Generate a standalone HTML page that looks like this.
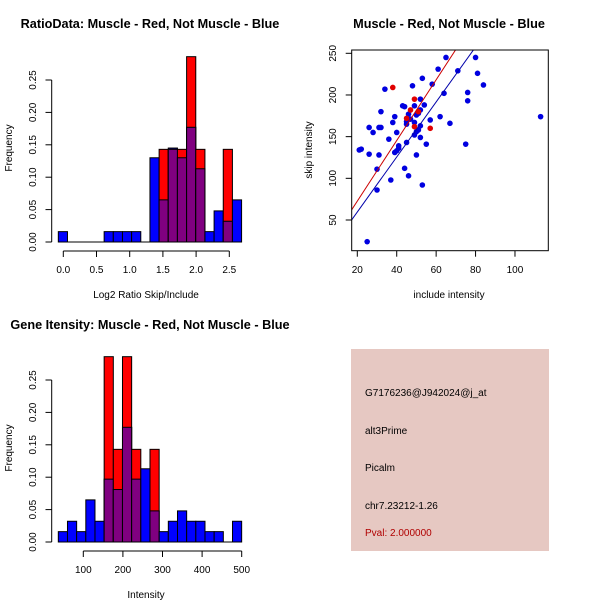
<!DOCTYPE html>
<html><head><meta charset="utf-8"><style>
html,body{margin:0;padding:0;background:#fff;}
svg{display:block;font-family:"Liberation Sans",sans-serif;}
</style></head><body>
<svg id="s" width="600" height="600" viewBox="0 0 600 600">
<rect x="0" y="0" width="600" height="600" fill="#fff"/>
<text x="150" y="28" font-size="12.7" font-weight="bold" text-anchor="middle">RatioData: Muscle - Red, Not Muscle - Blue</text>
<text x="449" y="28" font-size="12.7" font-weight="bold" text-anchor="middle">Muscle - Red, Not Muscle - Blue</text>
<text x="150" y="329" font-size="12.7" font-weight="bold" text-anchor="middle">Gene Itensity: Muscle - Red, Not Muscle - Blue</text>
<text x="146" y="298" font-size="10" text-anchor="middle">Log2 Ratio Skip/Include</text>
<text x="146" y="598" font-size="10" text-anchor="middle">Intensity</text>
<text x="449" y="298" font-size="10" text-anchor="middle">include intensity</text>
<text transform="translate(12,148) rotate(-90)" font-size="10" text-anchor="middle">Frequency</text>
<text transform="translate(12,448) rotate(-90)" font-size="10" text-anchor="middle">Frequency</text>
<text transform="translate(312,150) rotate(-90)" font-size="10" text-anchor="middle">skip intensity</text>
<g>
<rect x="351" y="349" width="198" height="202" fill="#e6c8c2"/>
<text x="365" y="396" font-size="10">G7176236@J942024@j_at</text>
<text x="365" y="434" font-size="10">alt3Prime</text>
<text x="365" y="471" font-size="10">Picalm</text>
<text x="365" y="509" font-size="10">chr7.23212-1.26</text>
<text x="365" y="536" font-size="10" fill="#b00000">Pval: 2.000000</text>
</g>
</svg>
<script>
// ---- Ratio histogram data ----
const ratioBinStart = -0.075;
const ratioBinWidth = 0.138;
const ratioBlue = [0.016,0,0,0,0,0.016,0.016,0.016,0.016,0,0.13,0.065,0.145,0.13,0.177,0.113,0.016,0.048,0.032,0.065];
const ratioRed  = [0,0,0,0,0,0,0,0,0,0,0,0.143,0.143,0.143,0.286,0.143,0,0,0.143,0];
const ratioXTicks = [0,0.5,1.0,1.5,2.0,2.5];
const ratioXTickLabels = ["0.0","0.5","1.0","1.5","2.0","2.5"];
const freqTicks = [0,0.05,0.10,0.15,0.20,0.25];
const freqTickLabels = ["0.00","0.05","0.10","0.15","0.20","0.25"];
// ---- Intensity histogram data ----
const intBinStart = 36.9;
const intBinWidth = 23.15;
const intBlue = [0.016,0.032,0.016,0.065,0.032,0.097,0.081,0.177,0.097,0.113,0.048,0.016,0.032,0.048,0.032,0.032,0.016,0.016,0,0.032];
const intRed  = [0,0,0,0,0,0.286,0.143,0.286,0.143,0,0.143,0,0,0,0,0,0,0,0,0];
const intXTicks = [100,200,300,400,500];
const intXTickLabels = ["100","200","300","400","500"];
// ---- Scatter data ----
const blueInclude = [21,22,25,26,26,28,30,30,31,31,32,32,34,36,37,38,39,39,40,40,41,41,43,44,44,45,45,45,46,46,47,48,49,49,49,50,50,50,51,51,52,52,52,52,53,53,54,55,57,58,61,62,64,65,67,71,75,76,76,80,81,84,113];
const blueSkip    = [134,135,24,161,129,155,111,86,128,161,180,161,207,147,98,167,174,131,155,133,136,139,187,112,186,168,143,165,103,177,171,211,187,167,152,128,156,176,158,178,149,195,182,163,92,220,188,141,170,213,231,174,202,245,166,229,141,193,203,245,226,212,174];
const redInclude = [38,45,47,49,49,51,57];
const redSkip    = [209,172,182,195,162,180,160];
const redFit  = [-0.2, 3.64];   // intercept, slope
const blueFit = [-6.4, 3.30];
const scXTicks = [20,40,60,80,100];
const scYTicks = [50,100,150,200,250];

const svg = document.getElementById('s');
const NS = 'http://www.w3.org/2000/svg';
function mk(tag, attrs, parent){const e=document.createElementNS(NS,tag);for(const k in attrs)e.setAttribute(k,attrs[k]);(parent||svg).appendChild(e);return e;}

function histogram(name, y0, xScale, binStart, binW, blue, red, xTicks, xLabels){
  const yS = v => y0 - v*648;
  const g = mk('g',{});
  
  
  for(let i=0;i<blue.length;i++){
    const xa = xScale(binStart+i*binW), xb = xScale(binStart+(i+1)*binW);
    const b = blue[i], r = red[i];
    if(b>0){const e=mk('rect',{x:xa,y:yS(b),width:xb-xa,height:yS(0)-yS(b),fill:'#0000ff',stroke:'#000','stroke-width':1},g);
      
      }
    if(r>0){const e=mk('rect',{x:xa,y:yS(r),width:xb-xa,height:yS(0)-yS(r),fill:'#ff0000',stroke:'#000','stroke-width':1},g);
      
      }
    const m=Math.min(b,r);
    if(m>0){const e=mk('rect',{x:xa,y:yS(m),width:xb-xa,height:yS(0)-yS(m),fill:'#800080',stroke:'#000','stroke-width':1},g);
      
      }
  }
  mk('line',{x1:xScale(binStart),x2:xScale(binStart+blue.length*binW),y1:y0,y2:y0,stroke:'#000'},g);
  mk('line',{x1:51.7,x2:51.7,y1:yS(0),y2:yS(0.25),stroke:'#000'},g);
  freqTicks.forEach((t,i)=>{
    mk('line',{x1:45.5,x2:51.7,y1:yS(t),y2:yS(t),stroke:'#000'},g);
    const tx=mk('text',{transform:`translate(36,${yS(t)}) rotate(-90)`,'font-size':10,'text-anchor':'middle'},g);
    tx.textContent=freqTickLabels[i];
    
    
  });
  const ay = y0+9;
  mk('line',{x1:xScale(xTicks[0]),x2:xScale(xTicks[xTicks.length-1]),y1:ay,y2:ay,stroke:'#000'},g);
  xTicks.forEach((t,i)=>{
    mk('line',{x1:xScale(t),x2:xScale(t),y1:ay,y2:ay+6,stroke:'#000'},g);
    const tx=mk('text',{x:xScale(t),y:ay+22,'font-size':10,'text-anchor':'middle'},g);
    tx.textContent=xLabels[i];
    
    
  });
}
histogram('ratio-histogram', 242, v=>63.3+v*66.4, ratioBinStart, ratioBinWidth, ratioBlue, ratioRed, ratioXTicks, ratioXTickLabels);
histogram('intensity-histogram', 542, v=>83.3+(v-100)*0.396, intBinStart, intBinWidth, intBlue, intRed, intXTicks, intXTickLabels);

const sx = v => 357.3 + (v-20)*1.971;
const sy = v => 53.3 + (250-v)*0.8335;
const sg = mk('g',{});


const box={x1:351.7,x2:548.3,y1:50,y2:250.7};
mk('clipPath',{id:'clp'},sg);
mk('rect',{x:box.x1,y:box.y1,width:box.x2-box.x1,height:box.y2-box.y1},document.getElementById('clp'));
const pts = mk('g',{'clip-path':'url(#clp)'},sg);
blueInclude.forEach((v,i)=>{const c=mk('circle',{cx:sx(v),cy:sy(blueSkip[i]),r:2.8,fill:'#0000e0'},pts);
  
  });
redInclude.forEach((v,i)=>{const c=mk('circle',{cx:sx(v),cy:sy(redSkip[i]),r:2.8,fill:'#e00000'},pts);
  
  });
[[redFit,'#cc0000','red-fit-line'],[blueFit,'#0000aa','blue-fit-line']].forEach(([f,col,n])=>{
  const xa=10, xb=130;
  const l=mk('line',{x1:sx(xa),y1:sy(f[0]+f[1]*xa),x2:sx(xb),y2:sy(f[0]+f[1]*xb),stroke:col,'stroke-width':1},pts);
  
  
});
mk('rect',{x:box.x1,y:box.y1,width:box.x2-box.x1,height:box.y2-box.y1,fill:'none',stroke:'#000'},sg);
scXTicks.forEach(t=>{
  mk('line',{x1:sx(t),x2:sx(t),y1:box.y2,y2:box.y2+6,stroke:'#000'},sg);
  const tx=mk('text',{x:sx(t),y:273,'font-size':10,'text-anchor':'middle'},sg);
  tx.textContent=String(t);
  
  
});
scYTicks.forEach(t=>{
  mk('line',{x1:box.x1-6,x2:box.x1,y1:sy(t),y2:sy(t),stroke:'#000'},sg);
  const tx=mk('text',{transform:`translate(336,${sy(t)}) rotate(-90)`,'font-size':10,'text-anchor':'middle'},sg);
  tx.textContent=String(t);
  
  
});
</script>
</body></html>
